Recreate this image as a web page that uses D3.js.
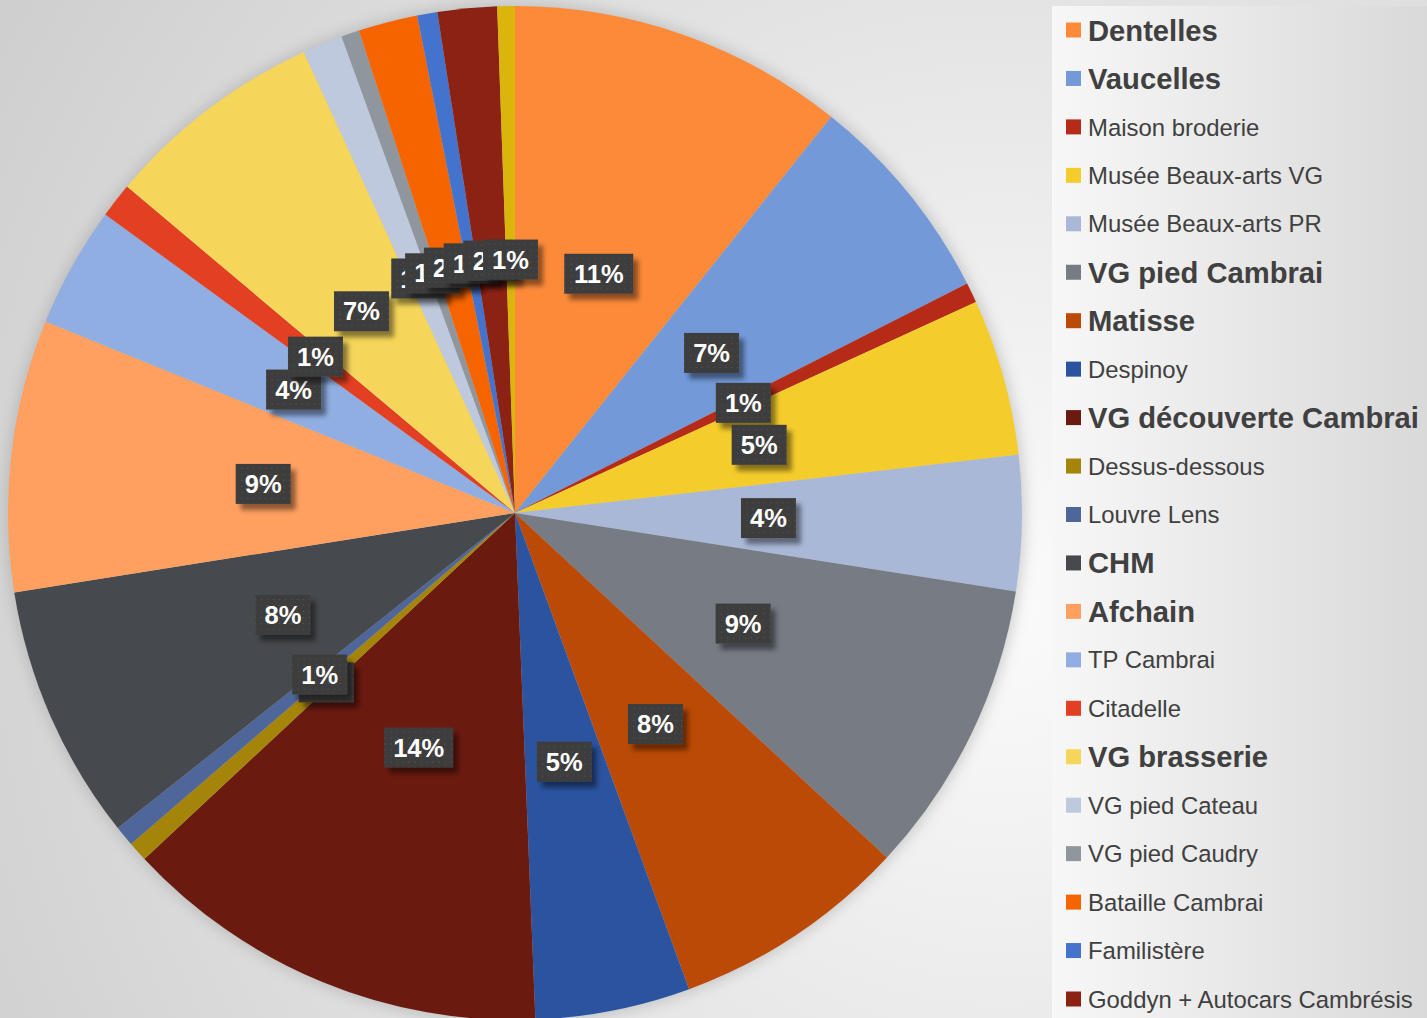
<!DOCTYPE html>
<html>
<head>
<meta charset="utf-8">
<script src="https://cdn.jsdelivr.net/npm/d3@7"></script>
<style>
  html, body { margin: 0; padding: 0; overflow: hidden; background: #e0e0e0; }
  svg { display: block; }
</style>
</head>
<body>
<svg id="chart" width="1427" height="1018"></svg>
<script>
// ---- data (share of visits, %) ----
const categories = [
  "Dentelles", "Vaucelles", "Maison broderie", "Musée Beaux-arts VG",
  "Musée Beaux-arts PR", "VG pied Cambrai", "Matisse", "Despinoy",
  "VG découverte Cambrai", "Dessus-dessous", "Louvre Lens", "CHM",
  "Afchain", "TP Cambrai", "Citadelle", "VG brasserie", "VG pied Cateau",
  "VG pied Caudry", "Bataille Cambrai", "Familistère",
  "Goddyn + Autocars Cambrésis", "Autre"
];
const values = [
  10.72, 6.81, 0.64, 5.00,
  4.31, 9.42, 7.53, 4.94,
  13.69, 0.63, 0.65, 8.17,
  8.67, 3.86, 1.11, 7.03, 1.28,
  0.58, 1.89, 0.64,
  1.89, 0.56
];
const legendCount = 21; // entries visible in the picture (the last one is cut off below)
const boldEntries = ["Dentelles", "Vaucelles", "VG pied Cambrai", "Matisse",
  "VG découverte Cambrai", "CHM", "Afchain", "VG brasserie"];
const colors = [
  "#FD8A39", "#7399D9", "#B52B17", "#F4CC2C",
  "#AAB8D8", "#767B84", "#BA4A05", "#2B53A0",
  "#6B1A10", "#A5840A", "#4E6699", "#46494E",
  "#FFA060", "#91AEE2", "#E33F22", "#F5D65A", "#BEC9DE",
  "#90969E", "#F66400", "#4373CC",
  "#8C2214", "#DBB40C"
];

// ---- layout ----
const W = 1427, H = 1018;
const cx = 515, cy = 513, R = 507;
const svg = d3.select("#chart");
const defs = svg.append("defs");

// background gradient
const bg = defs.append("radialGradient").attr("id", "bg")
  .attr("gradientUnits", "userSpaceOnUse")
  .attr("cx", 1000).attr("cy", 600).attr("r", 1200);
bg.append("stop").attr("offset", 0).attr("stop-color", "#fbfbfb");
bg.append("stop").attr("offset", 1).attr("stop-color", "#cdcdcd");
svg.append("rect").attr("width", W).attr("height", H).attr("fill", "url(#bg)");

// legend background gradient
const lg = defs.append("linearGradient").attr("id", "lg")
  .attr("x1", 0).attr("x2", 1).attr("y1", 0).attr("y2", 0);
lg.append("stop").attr("offset", 0).attr("stop-color", "#f7f7f7");
lg.append("stop").attr("offset", 1).attr("stop-color", "#d9d9d9");

// pie halo
const halo = defs.append("filter").attr("id", "halo")
  .attr("x", "-10%").attr("y", "-10%").attr("width", "120%").attr("height", "120%");
halo.append("feGaussianBlur").attr("stdDeviation", 7);

// label shadow
const sh = defs.append("filter").attr("id", "lblshadow")
  .attr("x", "-30%").attr("y", "-30%").attr("width", "170%").attr("height", "170%");
sh.append("feDropShadow").attr("dx", 5).attr("dy", 6).attr("stdDeviation", 2.5)
  .attr("flood-color", "#000").attr("flood-opacity", 0.45);

// dotted texture
const pat = defs.append("pattern").attr("id", "dots")
  .attr("patternUnits", "userSpaceOnUse").attr("width", 6).attr("height", 6);
pat.append("rect").attr("width", 6).attr("height", 6).attr("fill", "#3d3d3d");
pat.append("rect").attr("x", 2).attr("y", 2).attr("width", 1).attr("height", 1).attr("fill", "#5a5a5a");

const pie = d3.pie().sort(null).value(d => d.value);
const data = categories.map((c, i) => ({ name: c, value: values[i], color: colors[i] }));
const arcs = pie(data);
const total = d3.sum(values);
const arc = d3.arc().innerRadius(0).outerRadius(R);
const labelArc = d3.arc().innerRadius(R * 0.5).outerRadius(R * 0.5);

const g = svg.append("g").attr("transform", `translate(${cx},${cy})`);
g.append("circle").attr("r", R + 3).attr("fill", "#9a9a9a").attr("opacity", 0.45)
  .attr("filter", "url(#halo)");

g.selectAll("path.slice").data(arcs).join("path")
  .attr("class", "slice")
  .attr("d", arc)
  .attr("fill", d => d.data.color);

// labels
const fmt = d => Math.round(d.data.value / total * 100) + "%";
const lbl = g.selectAll("g.lbl").data(arcs).join("g")
  .attr("class", "lbl")
  .attr("transform", d => { const [x, y] = labelArc.centroid(d); return `translate(${x},${y})`; });
lbl.each(function(d) {
  const sel = d3.select(this);
  const t = fmt(d);
  const tw = t.length === 3 ? 51 : 37;
  const bw = tw + 18, bh = 40;
  sel.append("rect").attr("x", -bw / 2).attr("y", -bh / 2).attr("width", bw).attr("height", bh)
    .attr("fill", "url(#dots)").attr("filter", "url(#lblshadow)");
  sel.append("text").attr("text-anchor", "middle").attr("dy", "0.36em")
    .attr("font-family", "'Liberation Sans', Arial, sans-serif")
    .attr("font-weight", "bold").attr("font-size", 25.5).attr("fill", "#ffffff")
    .text(t);
});

// legend
svg.append("rect").attr("x", 1052).attr("y", 6).attr("width", W - 1052).attr("height", H)
  .attr("fill", "url(#lg)");
const legY0 = 30, legStep = 48.45;
const leg = svg.append("g").selectAll("g").data(data.slice(0, legendCount)).join("g")
  .attr("transform", (d, i) => `translate(1066,${legY0 + i * legStep})`);
leg.append("rect").attr("x", 0).attr("y", -7.5).attr("width", 15).attr("height", 15)
  .attr("fill", d => d.color);
leg.append("text").attr("x", 22).attr("dy", "0.36em")
  .attr("font-family", "'Liberation Sans', Arial, sans-serif")
  .attr("font-weight", d => boldEntries.includes(d.name) ? "bold" : "normal")
  .attr("font-size", d => boldEntries.includes(d.name) ? 29.2 : 23.9)
  .attr("fill", "#404040")
  .text(d => d.name);
</script>
</body>
</html>
